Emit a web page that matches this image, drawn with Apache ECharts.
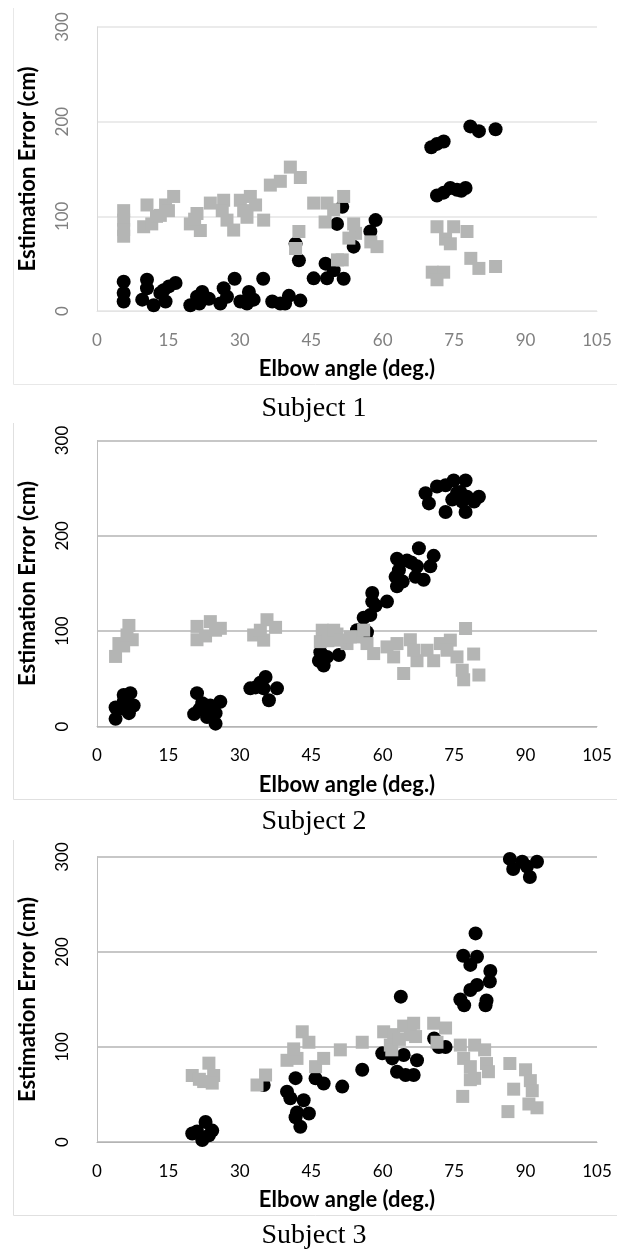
<!DOCTYPE html>
<html>
<head>
<meta charset="utf-8">
<script src="https://cdn.jsdelivr.net/npm/echarts@6/dist/echarts.min.js"></script>
<style>
html,body{margin:0;padding:0;background:#fff;}
#chart{width:628px;height:1250px;}
</style>
</head>
<body>
<div id="chart"></div>
<script>
// ---- data (elbow angle deg, estimation error cm) ----
var xTicks = [0, 15, 30, 45, 60, 75, 90, 105];
var yTicks = [0, 100, 200, 300];
var subjectTitles = ['Subject 1', 'Subject 2', 'Subject 3'];
var xAxisTitle = 'Elbow angle (deg.)';
var yAxisTitle = 'Estimation Error (cm)';

var subject1Black = [
  [5.6,31],[5.6,19],[5.6,10],
  [10.5,33],[10.5,24],[9.5,12],[11.9,6],
  [13.3,19],[14,22],[15.1,26],[16.5,29.6],[14.4,10],
  [19.6,6],[21,15],[22.1,20],[23.5,13],[21.5,8],
  [26.6,24],[25.9,8],[27.3,15],
  [28.9,34],[30.1,10],[31.9,20],[32.9,12],[31.5,8],
  [34.9,34],[36.8,10],[38.5,8],[40.3,16],[42.7,11],[39.5,8],
  [41.7,71],[42.4,53.5],
  [51.5,110],[50.4,92],
  [48,50],[45.5,34.5],[49.7,43],[51.8,34],[48.3,34.5],
  [53.9,68],[57.4,84],[58.5,96],
  [70.2,173],[71.4,176.5],[72.8,179],
  [78.4,195],[80.2,190],[83.7,192],
  [71.4,122],[72.8,125],[74.2,130],[75.6,128],[77.4,130],[76.5,127]
];
var subject1Gray = [
  [5.6,106],[5.6,96],[5.6,86],[5.6,79],
  [10.5,112],[9.8,89],[11.5,92],[12.5,100],
  [14.4,112],[16.1,121],[13.3,101],[15,106],
  [19.6,92],[21.7,85],[21,103],[20.5,97],
  [23.8,114],[26.6,117],[27.3,96],[28.7,85.5],[26.3,106],
  [30.1,117],[32.2,121],[30.8,106],[33.3,112],[31.5,99],[35,96],
  [36.4,133],[38.5,137],[40.6,152],[42.7,141],
  [45.5,114],[48.3,114],[47.9,94],[51.8,121],[49.7,107],[42.4,84],[41.7,66],
  [50.5,54],[51.5,54],[53.9,92],[54.3,82],[52.9,77],
  [57.5,73],[58.8,68],
  [71.4,89],[74.9,89],[77.7,84],[73.2,76],[74.2,71],
  [70.4,41],[72.8,41],[71.4,33],
  [78.5,55.6],[80.2,45],[83.7,47]
];
var subject2Black = [
  [5.6,33],[7,35],[3.9,20],[7.7,22],[3.9,8],[5.3,19],[6.7,14],[5.6,26],
  [21,35],[22.1,24.5],[20.4,13],[23.8,22],[25.9,26],[24.9,14],[23.1,10],[24.9,3],[21.5,18],
  [35.4,52],[33.3,41],[35,40],[37.8,40],[36.1,27.5],[32.2,40],[34.3,46],
  [46.9,78],[46.6,69],[47.6,64],[50.8,75],[48.3,73],
  [56.5,92],[54.6,101],[56.7,99],[56,114],[57.4,117],[57.8,140],[57.8,131],[58.5,127],[60.9,131],
  [67.6,187],[70.7,179],[63,176],[65.1,174],[70,168],[67.2,168],[63.4,164],[68.6,154],[66.9,157],[62.7,157],[63,147],[64.2,152],[66,172],
  [69,244.7],[69.7,234],[71.4,251.7],[73.2,253],[74.9,258],[77.4,258],[76.3,246],[77.7,241],[80.2,241],[79.2,236],[74.6,238],[73.2,225],[77.4,225],[76.7,236],[75.6,245]
];
var subject2Gray = [
  [6.7,106],[7.4,91],[5.6,84.5],[3.9,73.5],[4.6,87],[6.3,96],
  [21,91],[21,105],[23.8,110],[25.9,103],[22.8,95],[24.9,101],
  [32.9,96],[35.7,112],[37.5,104],[35,90.6],[34.3,101],
  [47.3,101],[46.9,89],[50.4,97],[52.5,87],[54.6,94],[48.5,90],
  [49.7,101],[51.1,90.6],[53.2,94],[56,101],[56.7,87],[58.1,76.5],[60.9,83.5],[63,87],[64.4,55.6],[65.8,91],
  [67.2,69],[69.3,80],[70.7,69],[72.1,87],[74.2,90.6],[75.6,73],[77.4,102.8],[77,49],[79.1,76],[80.2,54],
  [76.7,59],[73.5,80],[66.5,80],[62.3,73]
];
var subject3Black = [
  [20,9],[22.8,21],[22.1,2],[24.2,12],[21,11],[23.5,7],
  [35,60],
  [41.7,67.2],[39.9,53],[40.6,46],[43.4,44],[42,31],[44.5,30],[42.7,16],[41.7,26],
  [45.9,67],[47.6,61.6],[51.5,58.3],[55.7,76],
  [59.9,93.3],[62,88],[64.4,91.6],[67.2,86],[63,74],[64.8,70.5],[66.5,70.5],
  [63.8,153],
  [70.8,109],[71.8,100],[73.2,100],
  [86.7,298],[87.4,287.4],[89.3,295],[90.3,290],[90.9,279],[92.4,295],
  [79.5,219.6],[76.9,196],[79.8,195],[78.4,186.4],[82.6,180],[82.5,169],[79.8,165.3],[78.4,160],
  [76.3,150],[77.1,144],[81.8,149],[81.6,144]
];
var subject3Gray = [
  [20,70],[22.4,63.6],[23.5,83],[24.5,70],[24.2,62],[21.5,66],
  [33.6,60],[35.4,70.5],
  [39.9,86],[42,88],[43.1,116],[44.5,105],[41.3,98],
  [45.9,79.3],[47.6,88],[51.1,97],[55.7,105],
  [60.2,116],[62.3,113],[61.6,102],[64.4,122],[66.5,125],[65.8,113],[66.9,111],[61.9,97],[63.5,108],
  [70.7,125],[73.2,120],[71.4,105],
  [76.3,102],[79.3,102],[81.4,97],[77,88],[78.4,79.3],[81.8,82.6],[82.2,74],[79.3,67],[78.4,65.6],[76.8,48],
  [86.7,82.6],[90,76],[87.5,55.6],[91,64.6],[91.4,54],[90.7,40],[86.3,32],[92.4,36]
];

var blackSets = [subject1Black, subject2Black, subject3Black];
var graySets = [subject1Gray, subject2Gray, subject3Gray];

// ---- layout & style ----
var panels = [
  {top: 27, height: 284, frameTop: 8, frameBottom: 384, titleTop: 390, label: '#808080', grid: '#e4e4e4', axis: '#d9d9d9', frame: '#e8e8e8'},
  {top: 440.5, height: 286, frameTop: 423, frameBottom: 799, titleTop: 803, label: '#000000', grid: '#b4b4b4', axis: '#bfbfbf', frame: '#e0e0e0'},
  {top: 857, height: 285, frameTop: 840, frameBottom: 1215, titleTop: 1217, label: '#000000', grid: '#b4b4b4', axis: '#bfbfbf', frame: '#e0e0e0'}
];
var FONT = 'Lato, "Open Sans", sans-serif';

var grids = [], xAxes = [], yAxes = [], series = [], titles = [], graphics = [];
panels.forEach(function (p, i) {
  grids.push({left: 97, top: p.top, width: 500, height: p.height});
  xAxes.push({
    type: 'value', gridIndex: i, min: xTicks[0], max: xTicks[xTicks.length - 1], interval: 15,
    name: xAxisTitle, nameLocation: 'middle', nameGap: 47,
    nameTextStyle: {fontFamily: FONT, fontWeight: 'bold', fontSize: 22, color: '#000'},
    axisLine: {show: true, lineStyle: {color: p.grid, width: 1}},
    axisTick: {show: false},
    axisLabel: {margin: 21, fontFamily: FONT, fontSize: 17, color: p.label},
    splitLine: {show: false}
  });
  yAxes.push({
    type: 'value', gridIndex: i, min: yTicks[0], max: yTicks[yTicks.length - 1], interval: 100,
    name: yAxisTitle, nameLocation: 'middle', nameGap: 58,
    nameTextStyle: {fontFamily: FONT, fontWeight: 'bold', fontSize: 22, color: '#000'},
    axisLine: {show: true, lineStyle: {color: p.axis, width: 1}},
    axisTick: {show: false},
    axisLabel: {rotate: 90, margin: 26, fontFamily: FONT, fontSize: 17, color: p.label},
    splitLine: {show: true, lineStyle: {color: p.grid, width: 1.5}}
  });
  series.push({
    type: 'scatter', xAxisIndex: i, yAxisIndex: i, data: blackSets[i],
    symbol: 'circle', symbolSize: 14, itemStyle: {color: '#000000', opacity: 1}, silent: true, animation: false
  });
  series.push({
    type: 'scatter', xAxisIndex: i, yAxisIndex: i, data: graySets[i],
    symbol: 'rect', symbolSize: 13, itemStyle: {color: '#b4b5b4', opacity: 1}, silent: true, animation: false
  });
  titles.push({
    text: subjectTitles[i], left: 'center', top: p.titleTop,
    textStyle: {fontFamily: '"Liberation Serif", serif', fontWeight: 'normal', fontSize: 28, color: '#000'}
  });
  graphics.push({
    type: 'polyline', z: -1, silent: true,
    shape: {points: [[13.5, p.frameTop], [13.5, p.frameBottom + 0.5], [617, p.frameBottom + 0.5]]},
    style: {fill: null, stroke: p.frame, lineWidth: 1}
  });
});

var chart = echarts.init(document.getElementById('chart'), null, {renderer: 'canvas'});
chart.setOption({
  animation: false,
  backgroundColor: '#ffffff',
  title: titles,
  grid: grids,
  xAxis: xAxes,
  yAxis: yAxes,
  series: series,
  graphic: graphics
});
</script>
</body>
</html>
